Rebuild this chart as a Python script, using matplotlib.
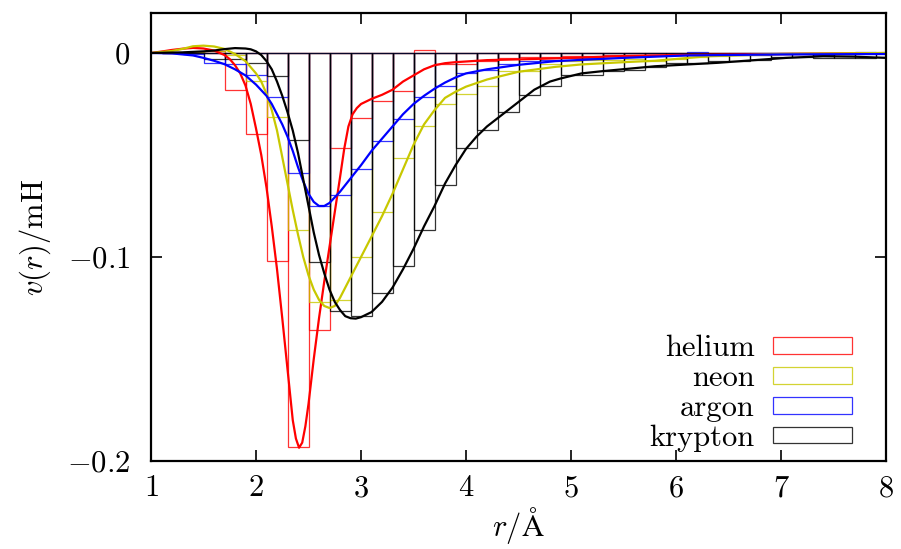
import matplotlib
matplotlib.use("Agg")
import matplotlib.pyplot as plt

plt.rcParams['mathtext.fontset'] = 'cm'
plt.rcParams['font.family'] = ['cmr10', 'DejaVu Serif']
plt.rcParams['axes.formatter.use_mathtext'] = True

# bin centres of the histograms (width 0.2)
bins = [1.2, 1.4, 1.6, 1.8, 2.0, 2.2, 2.4, 2.6, 2.8, 3.0, 3.2, 3.4, 3.6,
        3.8, 4.0, 4.2, 4.4, 4.6, 4.8, 5.0, 5.2, 5.4, 5.6, 5.8, 6.0, 6.2,
        6.4, 6.6, 6.8, 7.0, 7.2, 7.4, 7.6, 7.8, 8.0]

helium_bars = [0.0, 0.0005, 0.001, -0.018, -0.0395, -0.102, -0.193, -0.136,
               -0.0465, -0.032, -0.0237, -0.0184, 0.0017, -0.0056, -0.0056,
               -0.004, -0.0025, -0.002, -0.002, -0.0015, -0.0015, -0.001,
               -0.001, -0.001, -0.0008, -0.0008, -0.0005, -0.0005, -0.0005,
               -0.0003, -0.0003, -0.0003, -0.0002, -0.0002, 0.0]
neon_bars = [0.0, 0.0005, 0.001, -0.001, -0.0135, -0.0313, -0.087, -0.122,
             -0.121, -0.100, -0.0777, -0.0515, -0.0356, -0.0248, -0.0199,
             -0.016, -0.0089, -0.0086, -0.0056, -0.004, -0.0035, -0.0035,
             -0.003, -0.004, -0.003, -0.002, -0.0015, -0.001, -0.001,
             -0.0005, -0.0003, -0.0003, -0.0002, -0.0002, 0.0]
argon_bars = [0.0, -0.0005, -0.0048, -0.0056, -0.011, -0.0217, -0.059,
              -0.0752, -0.0695, -0.0567, -0.0433, -0.0326, -0.0215, -0.0163,
              -0.010, -0.0081, -0.0056, -0.0041, -0.0035, -0.0025, -0.0025,
              -0.0016, -0.0016, -0.0012, -0.0012, 0.0006, -0.001, -0.0008,
              -0.0008, -0.0005, -0.0005, -0.001, -0.0005, 0.0003, 0.0]
krypton_bars = [0.0, 0.0, -0.0028, -0.003, -0.005, -0.0114, -0.0425, -0.1025,
                -0.1267, -0.129, -0.1177, -0.1043, -0.0866, -0.0646, -0.0465,
                -0.0379, -0.029, -0.0204, -0.016, -0.0106, -0.011, -0.0089,
                -0.0081, -0.0068, -0.0048, -0.0048, -0.004, -0.004, -0.0033,
                -0.002, -0.0018, -0.0025, -0.0025, -0.0025, -0.002]

# fitted curves
helium_r = [1.0, 1.1, 1.2, 1.3, 1.4, 1.5, 1.6, 1.7, 1.75, 1.8, 1.85, 1.9,
            1.95, 2.0, 2.05, 2.1, 2.15, 2.2, 2.25, 2.3, 2.35, 2.38, 2.41,
            2.44, 2.47, 2.5, 2.55, 2.6, 2.65, 2.7, 2.75, 2.8, 2.84, 2.88,
            2.92, 2.96, 3.0, 3.1, 3.2, 3.3, 3.4, 3.5, 3.6, 3.7, 3.8, 3.9,
            4.2, 4.6, 5.0, 5.5, 6.0, 7.0, 8.0]
helium_v = [0.0, 0.0007, 0.0015, 0.0021, 0.0025, 0.0022, 0.0012, -0.001,
            -0.003, -0.006, -0.010, -0.016, -0.025, -0.037, -0.050, -0.066,
            -0.085, -0.106, -0.130, -0.155, -0.180, -0.189, -0.1935, -0.191,
            -0.183, -0.172, -0.150, -0.130, -0.112, -0.095, -0.078, -0.061,
            -0.047, -0.036, -0.030, -0.027, -0.025, -0.0225, -0.0205,
            -0.018, -0.014, -0.011, -0.008, -0.006, -0.005, -0.0045,
            -0.0035, -0.003, -0.0024, -0.0015, -0.001, -0.0005, 0.0]
neon_r = [1.0, 1.2, 1.3, 1.4, 1.5, 1.6, 1.7, 1.8, 1.9, 2.0, 2.05, 2.1, 2.15,
          2.2, 2.25, 2.3, 2.35, 2.4, 2.45, 2.5, 2.55, 2.6, 2.65, 2.7, 2.75,
          2.8, 2.85, 2.9, 3.0, 3.1, 3.2, 3.3, 3.4, 3.5, 3.6, 3.7, 3.8, 3.9,
          4.0, 4.2, 4.5, 4.85, 5.1, 5.5, 5.8, 6.3, 7.0, 8.0]
neon_v = [0.0, 0.001, 0.002, 0.0033, 0.0036, 0.0032, 0.002, -0.0005, -0.004,
          -0.010, -0.014, -0.020, -0.028, -0.038, -0.051, -0.064, -0.077,
          -0.089, -0.100, -0.109, -0.116, -0.121, -0.124, -0.125, -0.124,
          -0.120, -0.115, -0.110, -0.100, -0.090, -0.080, -0.069, -0.057,
          -0.045, -0.035, -0.028, -0.022, -0.019, -0.0165, -0.013, -0.0092,
          -0.0068, -0.0056, -0.0045, -0.0038, -0.0016, -0.0005, 0.0]
argon_r = [1.0, 1.2, 1.4, 1.5, 1.6, 1.7, 1.8, 1.9, 2.0, 2.1, 2.15, 2.2, 2.25,
           2.3, 2.35, 2.4, 2.45, 2.5, 2.55, 2.6, 2.65, 2.7, 2.8, 2.9, 3.0,
           3.1, 3.2, 3.3, 3.4, 3.5, 3.6, 3.7, 3.8, 3.9, 4.0, 4.2, 4.5, 4.85,
           5.5, 6.1, 7.0, 8.0]
argon_v = [0.0, -0.0002, -0.0012, -0.0024, -0.0038, -0.0055, -0.008, -0.011,
           -0.0155, -0.021, -0.025, -0.030, -0.035, -0.041, -0.048, -0.056,
           -0.063, -0.069, -0.073, -0.075, -0.075, -0.0735, -0.068, -0.0615,
           -0.055, -0.048, -0.042, -0.036, -0.030, -0.025, -0.021, -0.0175,
           -0.0145, -0.012, -0.010, -0.008, -0.0058, -0.004, -0.0024,
           -0.0012, -0.0007, -0.0005]
krypton_r = [1.0, 1.3, 1.5, 1.6, 1.7, 1.8, 1.9, 1.95, 2.0, 2.05, 2.1, 2.15,
             2.2, 2.25, 2.3, 2.35, 2.4, 2.45, 2.5, 2.55, 2.6, 2.65, 2.7, 2.75,
             2.8, 2.85, 2.9, 2.95, 3.0, 3.1, 3.2, 3.3, 3.4, 3.5, 3.6, 3.7,
             3.8, 3.9, 4.0, 4.1, 4.2, 4.3, 4.4, 4.5, 4.65, 4.8, 4.9, 5.1,
             5.3, 5.8, 6.4, 6.8, 7.05, 7.4, 7.7, 8.0]
krypton_v = [0.0, 0.0003, 0.0008, 0.0012, 0.0019, 0.0024, 0.0022, 0.0018,
             0.0008, -0.001, -0.004, -0.008, -0.014, -0.021, -0.029, -0.038,
             -0.049, -0.062, -0.075, -0.088, -0.099, -0.108, -0.116, -0.122,
             -0.126, -0.129, -0.130, -0.1302, -0.1295, -0.127, -0.122,
             -0.115, -0.106, -0.096, -0.085, -0.075, -0.064, -0.055, -0.047,
             -0.041, -0.036, -0.032, -0.028, -0.024, -0.018, -0.014, -0.0125,
             -0.010, -0.0089, -0.0065, -0.0048, -0.0033, -0.0024, -0.0016,
             -0.0018, -0.0024]

labels = ["helium", "neon", "argon", "krypton"]
colors = ["#ff0000", "#c8c800", "#0000ff", "#000000"]
all_bars = [helium_bars, neon_bars, argon_bars, krypton_bars]
all_curves = [(helium_r, helium_v), (neon_r, neon_v), (argon_r, argon_v),
              (krypton_r, krypton_v)]

fig = plt.figure(figsize=(9.01, 5.49), dpi=100)
ax = fig.add_axes([0.1676, 0.1603, 0.8158, 0.8160])

for vals, c, lab in zip(all_bars, colors, labels):
    ax.bar(bins, vals, width=0.2, fill=False, edgecolor=c, linewidth=0.9,
           alpha=0.8, label=lab)
for (r, v), c in zip(all_curves, colors):
    ax.plot(r, v, color=c, linewidth=1.6)

ax.set_xlim(1, 8)
ax.set_ylim(-0.2, 0.0196)
ax.set_xticks([1, 2, 3, 4, 5, 6, 7, 8])
ax.set_yticks([0, -0.1, -0.2])
ax.set_yticklabels(['$0$', '$-0.1$', '$-0.2$'])
ax.set_xticklabels(['$%d$' % i for i in range(1, 9)])
ax.tick_params(direction='in', length=8, width=1.2, top=True, right=True,
               labelsize=22)
ax.tick_params(axis='x', pad=10)
ax.tick_params(axis='y', pad=15)
for s in ax.spines.values():
    s.set_linewidth(1.6)

ax.set_xlabel(r'$r/\mathrm{\AA}$', fontsize=22, labelpad=2)
ax.set_ylabel(r'$v(r)/\mathrm{mH}$', fontsize=22, labelpad=10)

leg = ax.legend(loc='lower right', frameon=False, markerfirst=False,
                handlelength=2.6, handleheight=0.46, handletextpad=0.6,
                labelspacing=0.08, fontsize=22, borderpad=0,
                borderaxespad=0, bbox_to_anchor=(0.954, 0.02))

fig.savefig("out.png", dpi=100)
